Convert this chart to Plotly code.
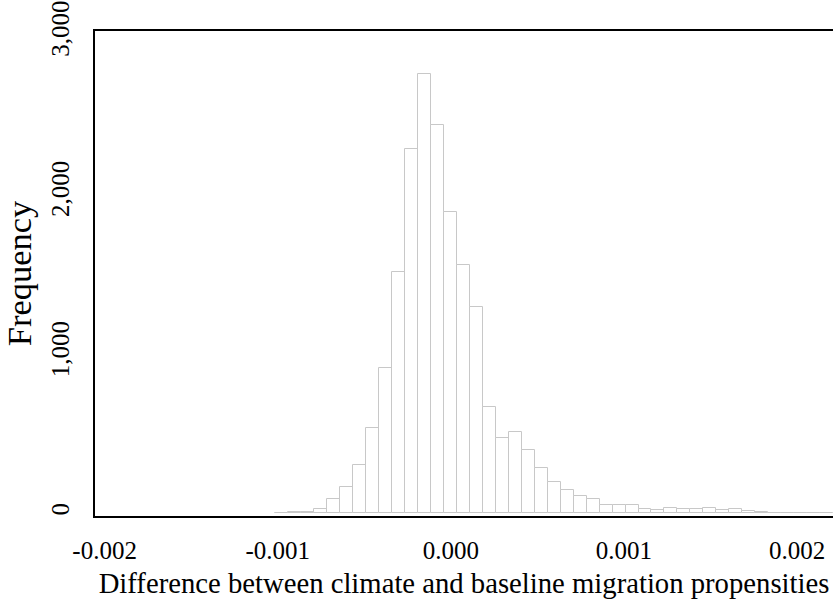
import plotly.graph_objects as go

# histogram bins (left edge of first bin and bin width, in the data units)
bin_start = -0.0010156
bin_width = 0.000075

# frequency per bin
counts = [2, 6, 8, 23, 87, 165, 300, 532, 903, 1505,
          2271, 2741, 2423, 1876, 1545, 1285, 659, 470, 507, 391,
          283, 195, 142, 106, 87, 47, 47, 47, 25, 19,
          33, 23, 23, 33, 19, 25, 12, 3, 2, 2,
          1, 2, 1]

x_ticks = [-0.002, -0.001, 0.0, 0.001, 0.002]
x_labels = ["-0.002", "-0.001", "0.000", "0.001", "0.002"]
y_ticks = [0, 1000, 2000, 3000]
y_labels = ["0", "1,000", "2,000", "3,000"]

centers = [bin_start + bin_width * (i + 0.5) for i in range(len(counts))]

fig = go.Figure(go.Bar(
    x=centers,
    y=counts,
    width=bin_width,
    marker=dict(color="white", line=dict(color="#c8c8c8", width=1)),
))

font = "Liberation Serif, Times New Roman, serif"

fig.update_layout(
    width=833, height=606,
    margin=dict(l=95, r=0, t=31, b=90),
    paper_bgcolor="white", plot_bgcolor="white",
    bargap=0, showlegend=False,
    font=dict(family=font, color="black"),
)

fig.update_xaxes(
    range=[-0.0020555, 0.002208],
    tickvals=x_ticks, ticktext=x_labels,
    tickfont=dict(size=25),
    showgrid=False, zeroline=False, automargin=False,
    showline=True, linecolor="black", linewidth=2, mirror=True,
    ticks="", ticklabelstandoff=11, ticklabeloverflow="allow",
    title=dict(text="Difference between climate and baseline migration propensities",
               font=dict(size=28.7), standoff=10),
)

fig.update_yaxes(
    range=[-19, 3009],
    tickvals=y_ticks, ticktext=y_labels,
    tickfont=dict(size=25), tickangle=-90,
    showgrid=False, zeroline=False, automargin=False,
    showline=True, linecolor="black", linewidth=2,
    ticks="", ticklabelstandoff=14, ticklabeloverflow="allow",
    title=dict(text="Frequency", font=dict(size=34.5), standoff=6),
)

# drop the default page margin so the figure sits at the window's corner
fig.write_html("out.html",
               config={"displayModeBar": False},
               post_script="document.body.style.margin='0px';"
                           "document.documentElement.style.overflow='hidden';")
